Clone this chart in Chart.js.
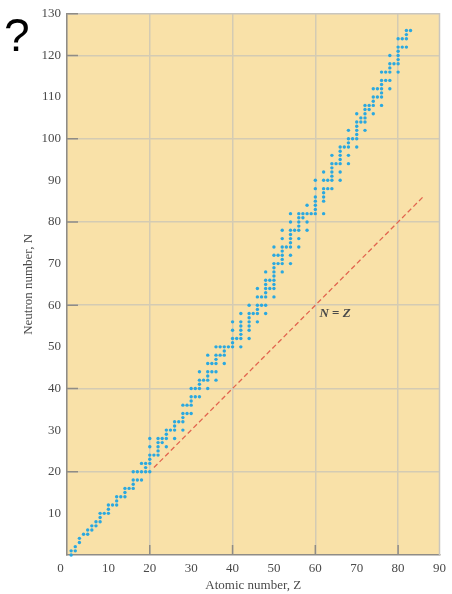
<!DOCTYPE html>
<html>
<head>
<meta charset="utf-8">
<script src="https://cdn.jsdelivr.net/npm/chart.js@4.4.1/dist/chart.umd.min.js"></script>
<style>
  html, body { margin: 0; padding: 0; background: #fff; }
  #wrap { position: relative; width: 452px; height: 594px; }
  #q { position: absolute; left: 4px; top: 12px; font: 46px/1 "Liberation Sans", Arial, sans-serif; color: #000; }
</style>
</head>
<body>
<div id="wrap">
  <canvas id="nuclideChart" width="452" height="594"></canvas>
  <div id="q">?</div>
</div>
<script>
"use strict";

// Stable nuclei: atomic number Z and the neutron numbers N found for it
const protonNumbers = [
  1, 2, 3, 4, 5, 6, 7, 8, 9, 10, 11, 12, 13, 14, 15, 16, 17, 18, 19, 20,
  21, 22, 23, 24, 25, 26, 27, 28, 29, 30, 31, 32, 33, 34, 35, 36, 37, 38, 39, 40,
  41, 42, 44, 45, 46, 47, 48, 49, 50, 51, 52, 53, 54, 55, 56, 57, 58, 59, 60,
  62, 63, 64, 65, 66, 67, 68, 69, 70, 71, 72, 73, 74, 75, 76, 77, 78, 79, 80,
  81, 82, 83,
];
const neutronNumbers = [
  [0, 1], [1, 2], [3, 4], [5], [5, 6], [6, 7], [7, 8], [8, 9, 10], [10], [10, 11, 12],
  [12], [12, 13, 14], [14], [14, 15, 16], [16], [16, 17, 18, 20], [18, 20], [18, 20, 22],
  [20, 21, 22], [20, 22, 23, 24, 26, 28],
  [24], [24, 25, 26, 27, 28], [27, 28], [26, 28, 29, 30], [30], [28, 30, 31, 32], [32],
  [30, 32, 33, 34, 36], [34, 36], [34, 36, 37, 38, 40], [38, 40], [38, 40, 41, 42, 44],
  [42], [40, 42, 43, 44, 46, 48], [44, 46], [42, 44, 46, 47, 48, 50], [48, 50],
  [46, 48, 49, 50], [50], [50, 51, 52, 54, 56],
  [52], [50, 52, 53, 54, 55, 56, 58], [52, 54, 55, 56, 57, 58, 60], [58],
  [56, 58, 59, 60, 62, 64], [60, 62], [58, 60, 62, 63, 64, 65, 66, 68], [64, 66],
  [62, 64, 65, 66, 67, 68, 69, 70, 72, 74], [70, 72], [68, 70, 71, 72, 73, 74, 76, 78],
  [74], [70, 72, 74, 75, 76, 77, 78, 80, 82], [78], [74, 76, 78, 79, 80, 81, 82],
  [81, 82], [78, 80, 82, 84], [82], [82, 83, 84, 85, 86, 88, 90],
  [82, 85, 86, 87, 88, 90, 92], [88, 90], [88, 90, 91, 92, 93, 94, 96], [94],
  [90, 92, 94, 95, 96, 97, 98], [98], [94, 96, 98, 99, 100, 102], [100],
  [98, 100, 101, 102, 103, 104, 106], [104, 105], [102, 104, 105, 106, 107, 108],
  [107, 108], [106, 108, 109, 110, 112], [110, 112], [108, 110, 111, 112, 113, 114, 116],
  [114, 116], [112, 114, 116, 117, 118, 120], [118], [116, 118, 119, 120, 121, 122, 124],
  [122, 124], [122, 124, 125, 126], [126],
];

// N = Z reference line, drawn between these Z values
const equalLineZ = [21, 86];
const equalLabelAt = [61, 58];

const xTickValues = [0, 10, 20, 30, 40, 50, 60, 70, 80, 90];
const yTickValues = [10, 20, 30, 40, 50, 60, 70, 80, 90, 100, 110, 120, 130];

const plotFill = "#f9e1a8";
const gridColor = "#d4cbb3";
const axisColor = "#8f8c86";
const textColor = "#4a4a4a";
const serif = '"Liberation Serif", "Times New Roman", serif';

const nuclei = protonNumbers.flatMap((z, i) =>
  neutronNumbers[i].map((n) => ({ x: z, y: n }))
);

const majorGrid = (c) =>
  c.tick && c.tick.value % 20 === 0 ? gridColor : "rgba(0,0,0,0)";

const plotDecor = {
  id: "plotDecor",
  beforeDraw(chart) {
    const { ctx, chartArea: a } = chart;
    ctx.save();
    ctx.fillStyle = plotFill;
    ctx.fillRect(a.left, a.top, a.right - a.left, a.bottom - a.top);
    ctx.restore();
  },
  afterDatasetsDraw(chart) {
    const { ctx, chartArea: a, scales } = chart;
    ctx.save();
    // top and right frame
    ctx.strokeStyle = "#c9c6bf";
    ctx.lineWidth = 1.5;
    ctx.beginPath();
    ctx.moveTo(a.left, a.top);
    ctx.lineTo(a.right, a.top);
    ctx.lineTo(a.right, a.bottom);
    ctx.stroke();
    // short inward ticks on the major lines
    ctx.strokeStyle = axisColor;
    ctx.beginPath();
    yTickValues.forEach((v) => {
      if (v % 20 !== 0 && v !== 130) return;
      const y = scales.y.getPixelForValue(v);
      ctx.moveTo(a.left, y);
      ctx.lineTo(a.left + 11, y);
    });
    xTickValues.forEach((v) => {
      if (v % 20 !== 0 || v === 0) return;
      const x = scales.x.getPixelForValue(v);
      ctx.moveTo(x, a.bottom);
      ctx.lineTo(x, a.bottom - 10);
    });
    ctx.stroke();

    // "N = Z" label
    let x = scales.x.getPixelForValue(equalLabelAt[0]);
    const y = scales.y.getPixelForValue(equalLabelAt[1]);
    ctx.fillStyle = textColor;
    ctx.textBaseline = "middle";
    ctx.textAlign = "left";
    const parts = [
      ["N", "italic bold 13px " + serif],
      [" = ", "bold 13px " + serif],
      ["Z", "italic bold 13px " + serif],
    ];
    parts.forEach(([t, f]) => {
      ctx.font = f;
      ctx.fillText(t, x, y);
      x += ctx.measureText(t).width;
    });
    ctx.restore();
  },
};

const ctx = document.getElementById("nuclideChart").getContext("2d");

new Chart(ctx, {
  type: "scatter",
  data: {
    datasets: [
      {
        label: "N = Z",
        type: "line",
        data: equalLineZ.map((z) => ({ x: z, y: z })),
        borderColor: "#e2654f",
        borderWidth: 1.3,
        borderDash: [5, 3],
        pointRadius: 0,
        fill: false,
        clip: false,
      },
      {
        label: "Stable nuclei",
        data: nuclei,
        pointRadius: 1.7,
        pointBackgroundColor: "#2aa8e0",
        pointBorderWidth: 0,
        clip: false,
      },
    ],
  },
  options: {
    responsive: false,
    animation: false,
    events: [],
    layout: { padding: { top: 13, right: 6, left: 0, bottom: 0 } },
    plugins: {
      legend: { display: false },
      tooltip: { enabled: false },
    },
    scales: {
      x: {
        type: "linear",
        min: 0,
        max: 90,
        afterBuildTicks: (s) => {
          s.ticks = xTickValues.map((v) => ({ value: v }));
        },
        afterFit: (s) => {
          s.height = 39;
        },
        grid: { color: majorGrid, lineWidth: 1.5, drawTicks: false },
        border: { color: axisColor, width: 1.5 },
        ticks: {
          padding: 6,
          color: textColor,
          font: { family: serif, size: 13 },
          callback: (v) => (v === 0 ? "0    " : String(v)),
        },
        title: {
          display: true,
          text: "Atomic number, Z",
          color: textColor,
          font: { family: serif, size: 13 },
          padding: { top: 0, bottom: 1 },
        },
      },
      y: {
        type: "linear",
        min: 0,
        max: 130,
        afterBuildTicks: (s) => {
          s.ticks = yTickValues.map((v) => ({ value: v }));
        },
        afterFit: (s) => {
          s.width = 67;
        },
        grid: { color: majorGrid, lineWidth: 1.5, drawTicks: false },
        border: { color: axisColor, width: 1.5 },
        ticks: {
          padding: 6,
          color: textColor,
          font: { family: serif, size: 13 },
        },
        title: {
          display: true,
          text: "Neutron number, N",
          color: textColor,
          font: { family: serif, size: 13 },
          padding: { top: 21, bottom: 0 },
        },
      },
    },
  },
  plugins: [plotDecor],
});
</script>
</body>
</html>
